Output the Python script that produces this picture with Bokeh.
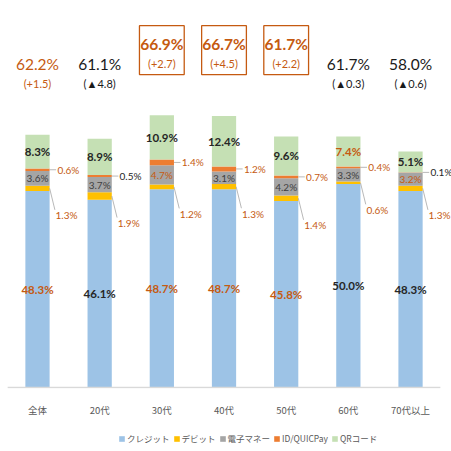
from bokeh.plotting import figure
from bokeh.layouts import column
from bokeh.models import ColumnDataSource, Range1d, Legend, LegendItem, FixedTicker
from bokeh.core.properties import value
from bokeh.embed import file_html
from bokeh.resources import INLINE

categories = ["全体", "20代", "30代", "40代", "50代", "60代", "70代以上"]
series_names = ["クレジット", "デビット", "電子マネー", "ID/QUICPay", "QRコード"]
credit = [48.3, 46.1, 48.7, 48.7, 45.8, 50.0, 48.3]
debit = [1.3, 1.9, 1.2, 1.3, 1.4, 0.6, 1.3]
emoney = [3.6, 3.7, 4.7, 3.1, 4.2, 3.3, 3.2]
idq = [0.6, 0.5, 1.4, 1.2, 0.7, 0.4, 0.1]
qr = [8.3, 8.9, 10.9, 12.4, 9.6, 7.4, 5.1]
total_labels = ["62.2%", "61.1%", "66.9%", "66.7%", "61.7%", "61.7%", "58.0%"]
change_labels = ["(+1.5)", "(▲4.8)", "(+2.7)", "(+4.5)", "(+2.2)", "(▲0.3)", "(▲0.6)"]
boxed = [False, False, True, True, True, False, False]

# label colour flags (1 = orange)
credit_hl = [1, 0, 1, 1, 1, 0, 0]
debit_hl = [1, 1, 1, 1, 1, 1, 1]
emoney_hl = [0, 0, 1, 0, 0, 0, 1]
id_hl = [1, 0, 1, 1, 1, 1, 0]
qr_hl = [0, 0, 0, 0, 0, 1, 0]
top_hl = [1, 0, 1, 1, 1, 0, 0]

COLORS = ["#9DC3E6", "#FFC000", "#A5A5A5", "#ED7D31", "#C5E0B4"]
ORANGE = "#C55A11"
DARK = "#262626"
GREY = "#404040"
NUM_FONT = value("Lato")
JP_FONT = "Noto Sans CJK JP"

n = len(categories)
xs = list(range(n))
BW = 0.39

src = ColumnDataSource(dict(x=xs, credit=credit, debit=debit, emoney=emoney, idq=idq, qr=qr))

p = figure(width=451, height=425, output_backend="svg", toolbar_location=None,
           x_range=Range1d(-0.595, 6.659), y_range=Range1d(-0.25, 95.09),
           min_border_left=0, min_border_right=0, min_border_top=0, min_border_bottom=37)
p.outline_line_color = None
p.grid.visible = False
p.yaxis.visible = False

rs = p.vbar_stack(["credit", "debit", "emoney", "idq", "qr"], x="x", width=BW,
                  color=COLORS, line_color=None, source=src)

# baseline
p.segment(x0=[-0.48], y0=[0], x1=[n - 0.52], y1=[0], line_color="#D9D9D9", line_width=1.5)

xa = p.xaxis[0]
xa.ticker = FixedTicker(ticks=xs)
xa.major_label_overrides = {i: c for i, c in enumerate(categories)}
xa.axis_line_color = None
xa.major_tick_line_color = None
xa.minor_tick_line_color = None
xa.major_label_standoff = 8
xa.major_label_text_font = JP_FONT
xa.major_label_text_font_size = "9.5px"
xa.major_label_text_color = "#595959"

def col(flags, base=DARK):
    return [ORANGE if f else base for f in flags]

# cumulative positions
c0 = [0.0] * n
c1 = [a for a in credit]
c2 = [a + b for a, b in zip(c1, debit)]
c3 = [a + b for a, b in zip(c2, emoney)]
c4 = [a + b for a, b in zip(c3, idq)]
c5 = [a + b for a, b in zip(c4, qr)]

fmt = lambda v: f"{v:.1f}%"

# inside labels: credit
p.text(x=xs, y=[(a + b) / 2 for a, b in zip(c0, c1)], text=[fmt(v) for v in credit],
       text_color=col(credit_hl), text_font=NUM_FONT, text_font_size="11.5px",
       text_font_style="bold", text_align="center", text_baseline="middle")
# emoney
p.text(x=xs, y=[(a + b) / 2 for a, b in zip(c2, c3)], text=[fmt(v) for v in emoney],
       text_color=col(emoney_hl, GREY), text_font=NUM_FONT, text_font_size="10px",
       text_align="center", text_baseline="middle")
# qr
p.text(x=xs, y=[(a + b) / 2 for a, b in zip(c4, c5)], text=[fmt(v) for v in qr],
       text_color=col(qr_hl), text_font=NUM_FONT, text_font_size="11.5px",
       text_font_style="bold", text_align="center", text_baseline="middle")

# outside labels with leaders: debit (below right)
dmid = [(a + b) / 2 for a, b in zip(c1, c2)]
dlab = [m - 6.6 for m in dmid]
p.segment(x0=[x + BW / 2 for x in xs], y0=dmid, x1=[x + 0.28 for x in xs], y1=[y + 1.3 for y in dlab],
          line_color="#A6A6A6", line_width=0.8)
p.text(x=[x + 0.29 for x in xs], y=dlab, text=[fmt(v) for v in debit],
       text_color=col(debit_hl), text_font=NUM_FONT, text_font_size="10px",
       text_align="left", text_baseline="middle")
# id (right)
imid = [(a + b) / 2 for a, b in zip(c3, c4)]
p.segment(x0=[x + BW / 2 for x in xs], y0=imid, x1=[x + 0.3 for x in xs], y1=imid,
          line_color="#A6A6A6", line_width=0.8)
p.text(x=[x + 0.32 for x in xs], y=imid, text=[fmt(v) for v in idq],
       text_color=col(id_hl), text_font=NUM_FONT, text_font_size="10px",
       text_align="left", text_baseline="middle")

# top labels
bx = [x for x, b in zip(xs, boxed) if b]
p.rect(x=bx, y=[82.9] * len(bx), width=0.72, height=12.0, fill_color="white",
       line_color=ORANGE, line_width=1.3)
p.text(x=xs, y=[84.3 if b else 79.6 for b in boxed], text=total_labels,
       text_color=col(top_hl, "#1A1A1A"), text_font=NUM_FONT, text_font_size="15.5px",
       text_font_style=["bold" if b else "normal" for b in boxed],
       text_align="center", text_baseline="middle")
p.text(x=xs, y=[79.6 if b else 74.7 for b in boxed], text=change_labels,
       text_color=col(top_hl, "#1A1A1A"), text_font=NUM_FONT, text_font_size="11px",
       text_align="center", text_baseline="middle")

# legend strip (swatch renderers have zero height, only their legend glyphs show)
lg = figure(width=451, height=26, output_backend="svg", toolbar_location=None,
            x_range=Range1d(0, 1), y_range=Range1d(0, 1),
            min_border_left=0, min_border_right=0, min_border_top=0, min_border_bottom=0)
lg.outline_line_color = None
lg.grid.visible = False
lg.axis.visible = False
swatches = [lg.vbar(x=[0.5], top=[0], bottom=[0], width=0.01, color=c, line_color=None)
            for c in COLORS]
legend = Legend(items=[LegendItem(label=nm, renderers=[r]) for nm, r in zip(series_names, swatches)],
                orientation="horizontal", location=(118, 3),
                glyph_width=7, glyph_height=7, label_text_font=JP_FONT,
                label_text_font_size="8.5px", label_text_color="#595959",
                border_line_color=None, background_fill_alpha=0,
                padding=0, margin=0, spacing=3, label_standoff=2, label_height=20)
lg.add_layout(legend, "center")

layout = column(p, lg, spacing=0)
open("out.html", "w").write(file_html(layout, INLINE))
